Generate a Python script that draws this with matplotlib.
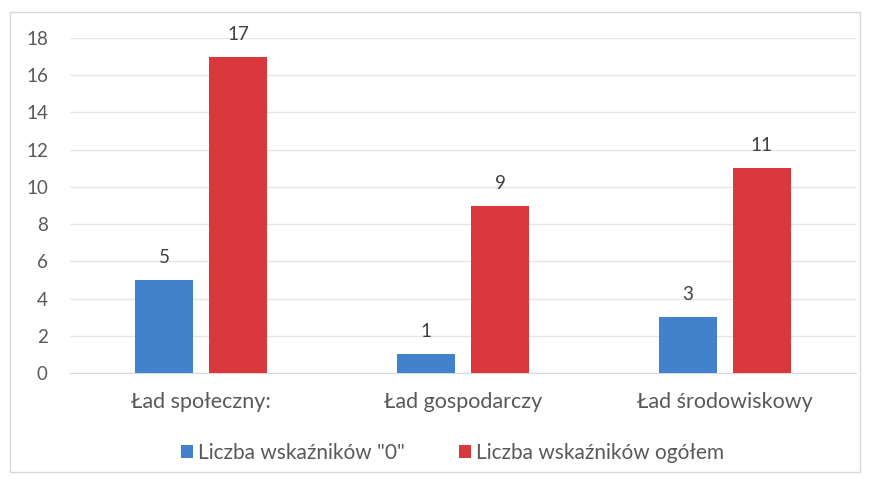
import matplotlib
matplotlib.use("Agg")
import matplotlib.pyplot as plt
import numpy as np
from matplotlib.patches import Rectangle

categories = ["Ład społeczny:", "Ład gospodarczy", "Ład środowiskowy"]
series_names = ['Liczba wskaźników "0"', "Liczba wskaźników ogółem"]
zero_counts = [5, 1, 3]
total_counts = [17, 9, 11]
yticks = [0, 2, 4, 6, 8, 10, 12, 14, 16, 18]

plt.rcParams['font.family'] = ['Lato', 'DejaVu Sans']

fig = plt.figure(figsize=(8.69, 4.84), dpi=100)
fig.patch.set_facecolor('white')
fig.add_artist(Rectangle((0.012, 0.025), 0.978, 0.95, transform=fig.transFigure,
                         fill=False, edgecolor='#d9d9d9', linewidth=1.0))

ax = fig.add_axes([0.0806, 0.2293, 0.9044, 0.6922])
x = np.arange(len(categories))
w = 0.222
off = 0.141
c_blue = '#4282cc'
c_red = '#d9393d'
b1 = ax.bar(x - off, zero_counts, w, color=c_blue, label=series_names[0], zorder=3)
b2 = ax.bar(x + off, total_counts, w, color=c_red, label=series_names[1], zorder=3)

for bars, vals in ((b1, zero_counts), (b2, total_counts)):
    for b, v in zip(bars, vals):
        ax.text(b.get_x() + b.get_width() / 2, v + 0.75, str(v), ha='center', va='bottom',
                fontsize=13.5, color='#404040')

ax.set_xlim(-0.5, 2.5)
ax.set_ylim(0, 18)
ax.set_yticks(yticks)
ax.set_yticklabels([str(t) for t in yticks], fontsize=13.5, color='#595959')
ax.set_xticks(x)
ax.set_xticklabels(categories, fontsize=15.5, color='#595959')
ax.tick_params(axis='both', length=0)
ax.tick_params(axis='y', pad=16)
ax.tick_params(axis='x', pad=14)
ax.grid(axis='y', color='#e6e6e6', linewidth=1, zorder=0)
for s in ['top', 'right', 'left']:
    ax.spines[s].set_visible(False)
ax.spines['bottom'].set_color('#d9d9d9')

fig.legend(handles=[b1, b2], loc='center', bbox_to_anchor=(0.521, 0.064), ncol=2,
           frameon=False, fontsize=15, handlelength=0.55, handleheight=0.55,
           handletextpad=0.25, columnspacing=2.6, labelcolor='#595959')

fig.savefig("out.png", dpi=100)
